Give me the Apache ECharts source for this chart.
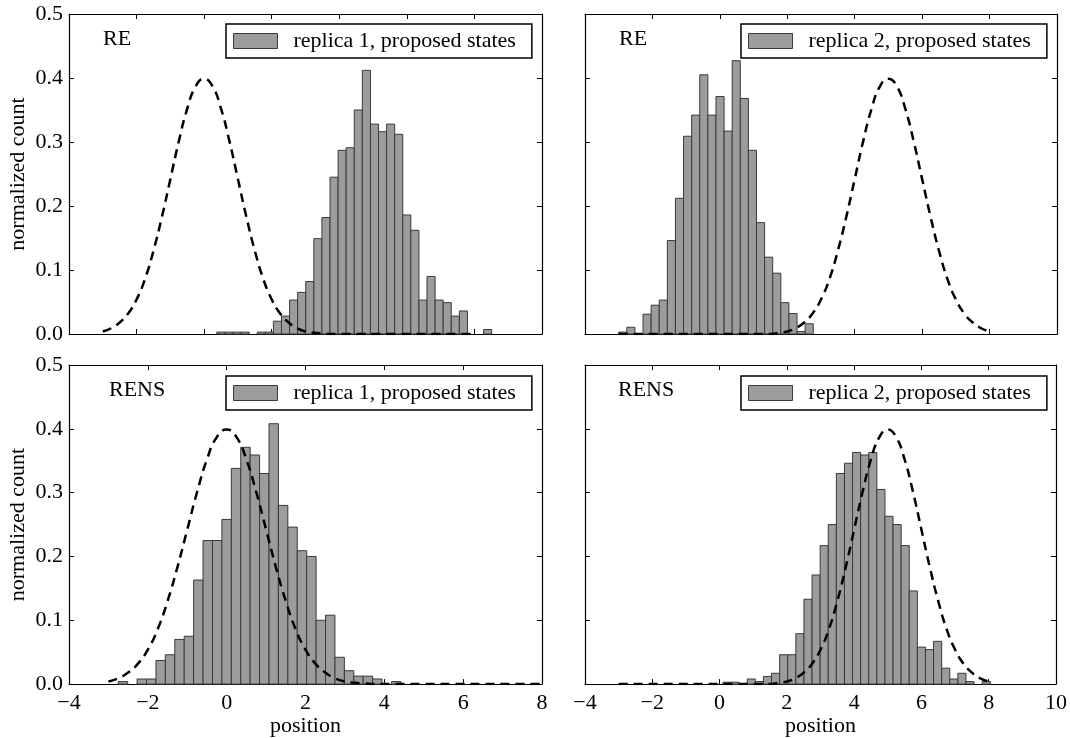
<!DOCTYPE html>
<html>
<head>
<meta charset="utf-8">
<script src="https://cdn.jsdelivr.net/npm/echarts@6/dist/echarts.min.js"></script>
<style>
  html, body { margin: 0; padding: 0; background: #fff; }
  #chart { width: 1070px; height: 738px; }
</style>
</head>
<body>
<div id="chart"></div>
<script>
// histogram bins: first left edge, bin width, normalized counts
const tlStart = 0.375
const tlWidth = 0.2393
const tlCounts = [0.003, 0.003, 0.003, 0.003, 0, 0.003, 0.003, 0.020, 0.028, 0.053, 0.065, 0.082, 0.149, 0.182, 0.245, 0.287, 0.291, 0.350, 0.412, 0.328, 0.316, 0.328, 0.312, 0.186, 0.162, 0.053, 0.090, 0.053, 0.049, 0.028, 0.036, 0, 0, 0.007]

const trStart = -3.0
const trWidth = 0.2404
const trCounts = [0.003, 0.0105, 0, 0.031, 0.045, 0.053, 0.146, 0.212, 0.309, 0.342, 0.405, 0.342, 0.371, 0.317, 0.427, 0.368, 0.287, 0.174, 0.120, 0.095, 0.049, 0.032, 0.004, 0.016]

const blStart = -2.75
const blWidth = 0.239
const blCounts = [0.004, 0, 0.008, 0.008, 0.037, 0.046, 0.070, 0.075, 0.163, 0.225, 0.225, 0.258, 0.338, 0.371, 0.359, 0.330, 0.408, 0.280, 0.246, 0.209, 0.200, 0.100, 0.108, 0.042, 0.021, 0.0125, 0.0125, 0.008, 0, 0.004]

const brStart = 0.10
const brWidth = 0.2408
const brCounts = [0.003, 0.003, 0, 0.008, 0.004, 0.012, 0.017, 0.046, 0.046, 0.079, 0.133, 0.171, 0.217, 0.250, 0.330, 0.346, 0.363, 0.359, 0.363, 0.305, 0.263, 0.250, 0.217, 0.146, 0.058, 0.054, 0.067, 0.025, 0.008, 0.017, 0.004, 0, 0.004]

// dashed reference curves
const curveX = [-3, -2.75, -2.5, -2.25, -2, -1.75, -1.5, -1.25, -1, -0.75, -0.5, -0.25, 0, 0.25, 0.5, 0.75, 1, 1.25, 1.5, 1.75, 2, 2.25, 2.5, 2.75, 3, 3.25, 3.5, 3.75, 4, 4.25, 4.5, 4.75, 5, 5.25, 5.5, 5.75, 6, 6.25, 6.5, 6.75, 7, 7.25, 7.5, 7.75, 8]
const curveLeft = [0.004, 0.009, 0.018, 0.032, 0.054, 0.086, 0.130, 0.183, 0.242, 0.301, 0.352, 0.387, 0.399, 0.387, 0.352, 0.301, 0.242, 0.183, 0.130, 0.086, 0.054, 0.032, 0.018, 0.009, 0.004, 0.002, 0.001, 0, 0, 0, 0, 0, 0, 0, 0, 0, 0, 0, 0, 0, 0, 0, 0, 0, 0]
const curveRight = [0, 0, 0, 0, 0, 0, 0, 0, 0, 0, 0, 0, 0, 0, 0, 0, 0, 0, 0, 0.002, 0.004, 0.009, 0.018, 0.032, 0.054, 0.086, 0.130, 0.183, 0.242, 0.301, 0.352, 0.387, 0.399, 0.387, 0.352, 0.301, 0.242, 0.183, 0.130, 0.086, 0.054, 0.032, 0.018, 0.009, 0.004]

const font = 'Liberation Serif'
const barFill = '#9c9c9c'
const barEdge = '#3a3a3a'

const panels = [
  { grid: { left: 69, top: 14, width: 473, height: 320 }, xMax: 10, start: tlStart, width: tlWidth, counts: tlCounts, curve: curveLeft, name: 'replica 1, proposed states', tag: 'RE', tagPos: [103, 40], legendPos: [226, 24], xLabels: false, yLabels: true },
  { grid: { left: 585, top: 14, width: 472, height: 320 }, xMax: 10, start: trStart, width: trWidth, counts: trCounts, curve: curveRight, name: 'replica 2, proposed states', tag: 'RE', tagPos: [619, 40], legendPos: [741, 24], xLabels: false, yLabels: false },
  { grid: { left: 69, top: 365, width: 473, height: 320 }, xMax: 8, start: blStart, width: blWidth, counts: blCounts, curve: curveLeft, name: 'replica 1, proposed states', tag: 'RENS', tagPos: [109, 391], legendPos: [226, 376], xLabels: true, yLabels: true },
  { grid: { left: 585, top: 365, width: 472, height: 320 }, xMax: 10, start: brStart, width: brWidth, counts: brCounts, curve: curveRight, name: 'replica 2, proposed states', tag: 'RENS', tagPos: [618, 391], legendPos: [741, 376], xLabels: true, yLabels: false }
]

const minus = v => String(v).replace('-', '\u2212')

const grids = []
const xAxes = []
const yAxes = []
const series = []
const legends = []
const graphics = []

const line = { show: true, onZero: false, lineStyle: { color: '#000', width: 1.2 } }
const tick = { show: true, inside: true, length: 5, lineStyle: { color: '#000', width: 1 } }
const label = { color: '#000', fontFamily: font, fontSize: 22 }

panels.forEach((p, i) => {
  grids.push(p.grid)
  xAxes.push({
    gridIndex: i, type: 'value', position: 'bottom', min: -4, max: p.xMax, interval: 2,
    axisLine: line, axisTick: tick, splitLine: { show: false },
    axisLabel: { show: p.xLabels, margin: 8, formatter: minus, ...label },
    name: p.xLabels ? 'position' : '', nameLocation: 'middle', nameGap: 29,
    nameTextStyle: { ...label }
  })
  xAxes.push({
    gridIndex: i, type: 'value', position: 'top', min: -4, max: p.xMax, interval: 2,
    axisLine: line, axisTick: tick, splitLine: { show: false }, axisLabel: { show: false }
  })
  yAxes.push({
    gridIndex: i, type: 'value', position: 'left', min: 0, max: 0.5, interval: 0.1,
    axisLine: line, axisTick: tick, splitLine: { show: false },
    axisLabel: { show: p.yLabels, margin: 6, formatter: v => v.toFixed(1), ...label },
    name: p.yLabels ? 'normalized count' : '', nameLocation: 'middle', nameGap: 40, nameRotate: 90,
    nameTextStyle: { ...label }
  })
  yAxes.push({
    gridIndex: i, type: 'value', position: 'right', min: 0, max: 0.5, interval: 0.1,
    axisLine: line, axisTick: tick, splitLine: { show: false }, axisLabel: { show: false }
  })

  // bins -> [left, right, height]
  const bins = p.counts.map((c, k) => [p.start + k * p.width, p.start + (k + 1) * p.width, c])
  series.push({
    type: 'custom',
    name: p.name,
    xAxisIndex: i * 2,
    yAxisIndex: i * 2,
    data: bins,
    encode: { x: [0, 1], y: 2 },
    itemStyle: { color: barFill, borderColor: barEdge, borderWidth: 1 },
    z: 2,
    renderItem (params, api) {
      if (api.value(2) <= 0) return
      const a = api.coord([api.value(0), api.value(2)])
      const b = api.coord([api.value(1), 0])
      return {
        type: 'rect',
        shape: { x: a[0], y: a[1], width: b[0] - a[0], height: b[1] - a[1] },
        style: { fill: barFill, stroke: barEdge, lineWidth: 1 }
      }
    }
  })
  series.push({
    type: 'line',
    xAxisIndex: i * 2,
    yAxisIndex: i * 2,
    data: curveX.map((x, k) => [x, p.curve[k]]),
    showSymbol: false,
    smooth: 0.5,
    lineStyle: { color: '#000', width: 2.5, type: [9, 6] },
    z: 3,
    silent: true
  })

  legends.push({
    left: p.legendPos[0], top: p.legendPos[1],
    data: [{ name: p.name, icon: 'rect' }],
    selectedMode: false,
    itemWidth: 44, itemHeight: 15,
    padding: [6, 16, 6, 7],
    borderColor: '#000', borderWidth: 1.5, borderRadius: 0,
    backgroundColor: '#fff',
    itemStyle: { color: barFill, borderColor: barEdge, borderWidth: 1 },
    textStyle: { ...label, padding: [0, 0, 0, 11] }
  })

  graphics.push({
    type: 'text', left: p.tagPos[0], top: p.tagPos[1] - 12,
    style: { text: p.tag, font: '22px "' + font + '"', fill: '#000' }
  })
})

const chart = echarts.init(document.getElementById('chart'))
chart.setOption({
  animation: false,
  grid: grids,
  xAxis: xAxes,
  yAxis: yAxes,
  legend: legends,
  series: series,
  graphic: graphics
})
</script>
</body>
</html>
